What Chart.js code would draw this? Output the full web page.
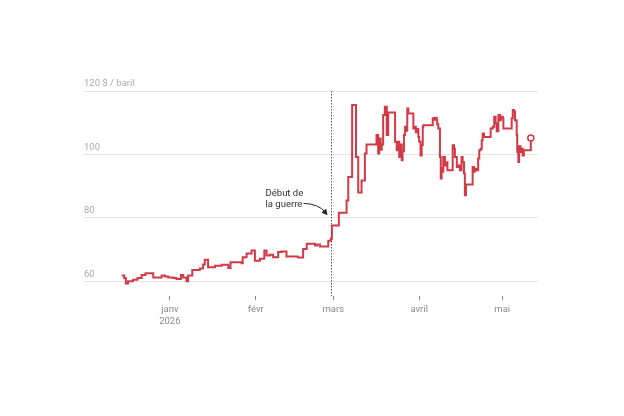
<!DOCTYPE html>
<html>
<head>
<meta charset="utf-8">
<script src="https://cdn.jsdelivr.net/npm/chart.js@4"></script>
<style>
html,body{margin:0;padding:0;background:#fff;}
#wrap{width:624px;height:416px;position:relative;}
</style>
</head>
<body>
<div id="wrap"><canvas id="c"></canvas></div>
<script>
// Days counted from 1 January 2026 (day 0); fractional values = intraday changes
const days = [
  -17.4,-16.5,-15.9,-15.1,-13.3,-11.7,-10.2,-8.8,-6.0,-3.0,-1.8,-0.6,1.2,2.4,4.0,4.8,6.0,6.6,8.1,10.8,
  12.0,12.6,13.8,16.3,18.7,21.1,21.9,25.9,26.3,27.7,29.5,30.7,32.5,34.1,34.9,36.1,37.3,39.1,40.3,42.1,
  46.2,48.1,49.4,52.4,53.2,54.2,57.2,58.1,58.5,61.0,63.8,64.4,65.8,67.2,68.0,69.2,70.4,71.0,
  74.6,75.2,75.6,76.1,76.5,77.0,77.6,78.3,78.8,
  81.3,81.9,82.4,82.8,83.3,83.7,84.0,84.5,84.9,85.2,85.7,86.1,87.9,88.5,88.8,89.3,89.7,90.0,90.5,90.9,91.3,91.5,
  94.9,95.3,95.7,96.3,96.5,96.9,97.5,97.8,98.1,98.5,98.7,99.3,99.9,100.2,102.1,102.6,102.9,103.6,104.1,104.7,
  105.3,105.7,106.2,106.5,106.9,109.3,109.8,110.1,110.8,111.3,111.7,112.2,112.6,112.9,113.4,115.8,116.6,117.1,
  117.6,118.0,118.6,119.2,119.5,120.2,120.4,123.4,123.8,124.2,124.6,125.2,125.4,125.8,126.1,126.6,127.0,127.4,
  127.8,130.3
];
const prices = [
  61.8,61.0,59.3,60.0,60.5,61.0,62.0,62.5,61.2,61.8,61.5,61.2,61.0,60.7,62.0,61.2,60.0,61.8,63.6,64.0,
  65.3,66.8,64.4,64.9,65.2,64.2,66.0,65.7,67.6,68.8,69.7,66.5,67.1,69.7,68.1,68.4,67.6,69.2,69.4,67.8,
  67.5,70.2,71.8,71.3,71.6,71.0,72.8,73.4,77.6,81.6,85.5,92.9,115.6,99.2,88.0,91.8,100.3,103.1,
  106.1,100.3,105.0,101.5,103.1,112.4,115.0,106.1,113.2,
  104.0,101.3,104.0,99.2,103.1,98.2,101.0,106.1,108.7,107.5,114.5,112.9,108.2,108.7,107.0,108.0,105.5,104.0,99.7,103.0,108.7,109.2,
  111.4,110.9,111.6,110.9,109.5,108.2,99.2,92.4,95.7,94.5,99.2,96.5,97.5,95.0,102.9,101.8,99.2,96.0,96.5,95.0,
  99.2,97.5,94.0,87.1,90.5,96.0,94.5,95.5,95.0,98.7,101.3,101.8,104.5,106.6,105.5,108.2,108.7,111.9,
  109.8,107.3,112.4,110.8,111.9,111.4,108.2,111.4,114.0,113.5,110.8,106.1,100.8,97.6,102.6,100.8,101.8,99.7,
  101.3,105.2
];
const monthTicks = [0, 31, 59, 90, 120];
const monthLabels = [["janv","2026"], "févr", "mars", "avril", "mai"];
const yTicks = [60, 80, 100, 120];
const warDay = 58; // 28 février
const annotationLines = ["Début de", "la guerre"];

const FONT = "Roboto, 'Liberation Sans', sans-serif";
const RED = '#d13a46';

const warPlugin = {
  id: 'war',
  beforeDatasetsDraw(chart) {
    const {ctx, chartArea, scales} = chart;
    const x = Math.round(scales.x.getPixelForValue(warDay)) + 0.5;
    ctx.save();
    ctx.strokeStyle = '#555';
    ctx.lineWidth = 1;
    ctx.setLineDash([1.5, 1.5]);
    ctx.beginPath();
    ctx.moveTo(x, chartArea.top);
    ctx.lineTo(x, chartArea.bottom);
    ctx.stroke();
    ctx.restore();
  },
  afterDatasetsDraw(chart) {
    const {ctx, scales} = chart;
    const x = scales.x.getPixelForValue(warDay);
    const yMid = scales.y.getPixelForValue(86);
    ctx.save();
    ctx.fillStyle = '#333';
    ctx.font = '9.5px ' + FONT;
    ctx.textAlign = 'left';
    ctx.textBaseline = 'middle';
    ctx.fillText(annotationLines[0], x - 65, yMid - 5.5);
    ctx.fillText(annotationLines[1], x - 65, yMid + 5.5);
    // curved arrow
    const sx = x - 27, sy = yMid + 4.5;
    const ex = x - 3, ey = yMid + 16.5;
    const cx = x - 12, cy = yMid + 5;
    ctx.strokeStyle = '#222';
    ctx.fillStyle = '#222';
    ctx.lineWidth = 1;
    ctx.beginPath();
    ctx.moveTo(sx, sy);
    ctx.quadraticCurveTo(cx, cy, ex - 2, ey - 3);
    ctx.stroke();
    const ang = Math.atan2(ey - cy, ex - cx);
    const L = 6, W = 3;
    ctx.beginPath();
    ctx.moveTo(ex, ey);
    ctx.lineTo(ex - L*Math.cos(ang) + W*Math.sin(ang), ey - L*Math.sin(ang) - W*Math.cos(ang));
    ctx.lineTo(ex - L*Math.cos(ang) - W*Math.sin(ang), ey - L*Math.sin(ang) + W*Math.cos(ang));
    ctx.closePath();
    ctx.fill();
    ctx.restore();
  }
};

const last = days.length - 1;
new Chart(document.getElementById('c'), {
  type: 'line',
  data: {
    datasets: [{
      data: days.map((d, i) => ({x: d, y: prices[i]})),
      borderColor: RED,
      borderWidth: 2,
      stepped: true,
      fill: false,
      pointRadius: ctx => ctx.dataIndex === last ? 3 : 0,
      pointBackgroundColor: '#fff',
      pointBorderColor: RED,
      pointBorderWidth: 1.5,
      pointHoverRadius: 0
    }]
  },
  options: {
    responsive: true,
    maintainAspectRatio: false,
    animation: false,
    events: [],
    layout: {padding: {left: 84, right: 86, top: 91, bottom: 85}},
    plugins: {legend: {display: false}, tooltip: {enabled: false}},
    scales: {
      x: {
        type: 'linear',
        min: -31,
        max: 132.9,
        afterBuildTicks: s => { s.ticks = monthTicks.map(v => ({value: v})); },
        ticks: {
          autoSkip: false,
          maxRotation: 0,
          padding: 4,
          color: '#8a8a8a',
          font: {family: FONT, size: 9.5},
          callback: v => { const i = monthTicks.indexOf(v); return i >= 0 ? monthLabels[i] : ''; }
        },
        grid: {display: true, drawOnChartArea: false, drawTicks: true, tickLength: 4, color: '#888', lineWidth: 1},
        border: {display: false}
      },
      y: {
        min: 55.3,
        max: 120,
        afterBuildTicks: s => { s.ticks = yTicks.map(v => ({value: v})); },
        ticks: {
          mirror: true,
          padding: 0,
          labelOffset: -7,
          color: '#aaaaaa',
          font: {family: FONT, size: 9.5},
          callback: v => v === 120 ? '120 $ / baril' : String(v)
        },
        grid: {color: '#e4e4e4', lineWidth: 1, drawTicks: false},
        border: {display: false}
      }
    }
  },
  plugins: [warPlugin]
});
</script>
</body>
</html>
